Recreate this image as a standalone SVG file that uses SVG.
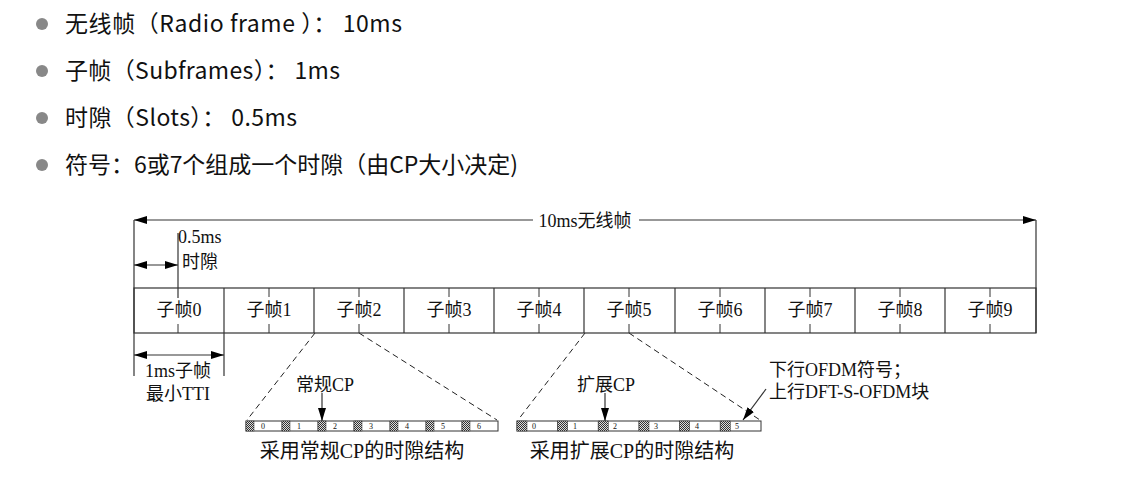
<svg xmlns="http://www.w3.org/2000/svg" width="1122" height="484" viewBox="0 0 1122 484">
<style>
.b{font-family:"Noto Sans CJK SC","Noto Sans",sans-serif;font-size:23px;fill:#111}
.t{font-family:"Liberation Serif","Noto Sans CJK SC",serif;font-size:18px;fill:#111}
.l{font-family:"Liberation Serif","Noto Sans CJK SC",serif;font-size:20px;fill:#111}
.d{font-family:"Liberation Serif",serif;font-size:8px;fill:#111}
.ln{stroke:#333;stroke-width:1.2;fill:none}
.ds{stroke:#222;stroke-width:1;fill:none;stroke-dasharray:6,4}
.bar{fill:#fff;stroke:#333;stroke-width:1}
.cp{fill:url(#chk);stroke:#333;stroke-width:0.5}
</style>
<defs>
<marker id="ah" viewBox="0 0 13 8" refX="13" refY="4" markerWidth="13" markerHeight="8" markerUnits="userSpaceOnUse" orient="auto-start-reverse"><path d="M0,0 L13,4 L0,8 z" fill="#000"/></marker>
<pattern id="chk" width="2" height="2" patternUnits="userSpaceOnUse"><rect width="2" height="2" fill="#ddd"/><rect width="1" height="1" fill="#333"/><rect x="1" y="1" width="1" height="1" fill="#333"/></pattern>
</defs>
<rect width="1122" height="484" fill="#fff"/>

<g id="bullets">
<circle cx="42" cy="24" r="6" fill="#888"/>
<text class="b" x="65" y="32" textLength="337" lengthAdjust="spacing">无线帧（Radio frame ）： 10ms</text>
<circle cx="42" cy="71" r="6" fill="#888"/>
<text class="b" x="65" y="79" textLength="275" lengthAdjust="spacing">子帧（Subframes）： 1ms</text>
<circle cx="42" cy="118" r="6" fill="#888"/>
<text class="b" x="65" y="126" textLength="232" lengthAdjust="spacing">时隙（Slots）： 0.5ms</text>
<circle cx="42" cy="165" r="6" fill="#888"/>
<text class="b" x="65" y="173" textLength="453" lengthAdjust="spacing">符号：6或7个组成一个时隙（由CP大小决定)</text>
</g>

<g id="connectors">
<line class="ln" x1="134" y1="220" x2="1036" y2="220" marker-start="url(#ah)" marker-end="url(#ah)"/>
<line class="ln" x1="134" y1="220" x2="134" y2="376"/>
<line class="ln" x1="1036" y1="220" x2="1036" y2="333"/>
<line class="ln" x1="178" y1="233" x2="178" y2="298"/>
<line class="ln" x1="134" y1="265" x2="178" y2="265" marker-start="url(#ah)" marker-end="url(#ah)"/>
<line class="ln" x1="224" y1="333" x2="224" y2="376"/>
<line class="ln" x1="134" y1="355" x2="224" y2="355" marker-start="url(#ah)" marker-end="url(#ah)"/>
<line class="ds" x1="315" y1="333" x2="247" y2="420"/>
<line class="ds" x1="359" y1="333" x2="497" y2="420"/>
<line class="ds" x1="585" y1="333" x2="518" y2="420"/>
<line class="ds" x1="629" y1="333" x2="760" y2="420"/>
<line class="ln" x1="322" y1="393" x2="322" y2="421" marker-end="url(#ah)"/>
<line class="ln" x1="605" y1="393" x2="605" y2="421" marker-end="url(#ah)"/>
<line class="ln" x1="766" y1="389" x2="743" y2="420" marker-end="url(#ah)"/>
</g>

<g id="frame-label">
<rect x="533" y="210" width="106" height="20" fill="#fff"/>
<text class="t" x="585" y="227" text-anchor="middle">10ms无线帧</text>
<text class="t" x="178" y="243">0.5ms</text>
<text class="t" x="182" y="268">时隙</text>
<text class="t" x="178" y="377" text-anchor="middle">1ms子帧</text>
<text class="t" x="178" y="400" text-anchor="middle">最小TTI</text>
</g>

<g id="subframes">
<rect x="134" y="288" width="902" height="45" fill="none" stroke="#333" stroke-width="1.2"/>
<g class="ln">
<line x1="224" y1="288" x2="224" y2="333"/><line x1="314" y1="288" x2="314" y2="333"/>
<line x1="404" y1="288" x2="404" y2="333"/><line x1="494" y1="288" x2="494" y2="333"/>
<line x1="584" y1="288" x2="584" y2="333"/><line x1="675" y1="288" x2="675" y2="333"/>
<line x1="765" y1="288" x2="765" y2="333"/><line x1="855" y1="288" x2="855" y2="333"/>
<line x1="945" y1="288" x2="945" y2="333"/>
</g>
<g stroke="#333" stroke-width="1">
<line x1="178" y1="324" x2="178" y2="333"/>
<line x1="269" y1="288" x2="269" y2="297"/><line x1="269" y1="324" x2="269" y2="333"/>
<line x1="359" y1="288" x2="359" y2="297"/><line x1="359" y1="324" x2="359" y2="333"/>
<line x1="449" y1="288" x2="449" y2="297"/><line x1="449" y1="324" x2="449" y2="333"/>
<line x1="539" y1="288" x2="539" y2="297"/><line x1="539" y1="324" x2="539" y2="333"/>
<line x1="629" y1="288" x2="629" y2="297"/><line x1="629" y1="324" x2="629" y2="333"/>
<line x1="720" y1="288" x2="720" y2="297"/><line x1="720" y1="324" x2="720" y2="333"/>
<line x1="810" y1="288" x2="810" y2="297"/><line x1="810" y1="324" x2="810" y2="333"/>
<line x1="900" y1="288" x2="900" y2="297"/><line x1="900" y1="324" x2="900" y2="333"/>
<line x1="990" y1="288" x2="990" y2="297"/><line x1="990" y1="324" x2="990" y2="333"/>
</g>
<g class="t" text-anchor="middle">
<text x="179" y="316">子帧0</text><text x="269" y="316">子帧1</text>
<text x="359" y="316">子帧2</text><text x="449" y="316">子帧3</text>
<text x="539" y="316">子帧4</text><text x="629" y="316">子帧5</text>
<text x="720" y="316">子帧6</text><text x="810" y="316">子帧7</text>
<text x="900" y="316">子帧8</text><text x="990" y="316">子帧9</text>
</g>
</g>

<g id="normal-cp">
<rect class="bar" x="246" y="421" width="252" height="10"/>
<g stroke="#333" stroke-width="0.8">
<line x1="282" y1="421" x2="282" y2="431"/><line x1="318" y1="421" x2="318" y2="431"/>
<line x1="354" y1="421" x2="354" y2="431"/><line x1="390" y1="421" x2="390" y2="431"/>
<line x1="426" y1="421" x2="426" y2="431"/><line x1="462" y1="421" x2="462" y2="431"/>
</g>
<rect class="cp" x="246" y="421" width="8" height="10"/><rect class="cp" x="282" y="421" width="8" height="10"/>
<rect class="cp" x="318" y="421" width="8" height="10"/><rect class="cp" x="354" y="421" width="8" height="10"/>
<rect class="cp" x="390" y="421" width="8" height="10"/><rect class="cp" x="426" y="421" width="8" height="10"/>
<rect class="cp" x="462" y="421" width="8" height="10"/>
<g class="d">
<text x="261" y="429">0</text><text x="297" y="429">1</text><text x="333" y="429">2</text>
<text x="369" y="429">3</text><text x="405" y="429">4</text><text x="441" y="429">5</text><text x="477" y="429">6</text>
</g>
<text class="t" x="325" y="391" text-anchor="middle">常规CP</text>
<text class="l" x="362" y="458" text-anchor="middle">采用常规CP的时隙结构</text>
</g>

<g id="extended-cp">
<rect class="bar" x="517" y="421" width="244" height="10"/>
<g stroke="#333" stroke-width="0.8">
<line x1="557.7" y1="421" x2="557.7" y2="431"/><line x1="598.3" y1="421" x2="598.3" y2="431"/>
<line x1="639" y1="421" x2="639" y2="431"/><line x1="679.7" y1="421" x2="679.7" y2="431"/>
<line x1="720.3" y1="421" x2="720.3" y2="431"/>
</g>
<rect class="cp" x="517" y="421" width="10" height="10"/><rect class="cp" x="557.7" y="421" width="10" height="10"/>
<rect class="cp" x="598.3" y="421" width="10" height="10"/><rect class="cp" x="639" y="421" width="10" height="10"/>
<rect class="cp" x="679.7" y="421" width="10" height="10"/><rect class="cp" x="720.3" y="421" width="10" height="10"/>
<g class="d">
<text x="532" y="429">0</text><text x="573" y="429">1</text><text x="613" y="429">2</text>
<text x="654" y="429">3</text><text x="695" y="429">4</text><text x="735" y="429">5</text>
</g>
<text class="t" x="606" y="391" text-anchor="middle">扩展CP</text>
<text class="l" x="632" y="458" text-anchor="middle">采用扩展CP的时隙结构</text>
</g>

<g id="symbol-label">
<text class="t" x="769" y="376">下行OFDM符号；</text>
<text class="t" x="769" y="398">上行DFT-S-OFDM块</text>
</g>
</svg>
